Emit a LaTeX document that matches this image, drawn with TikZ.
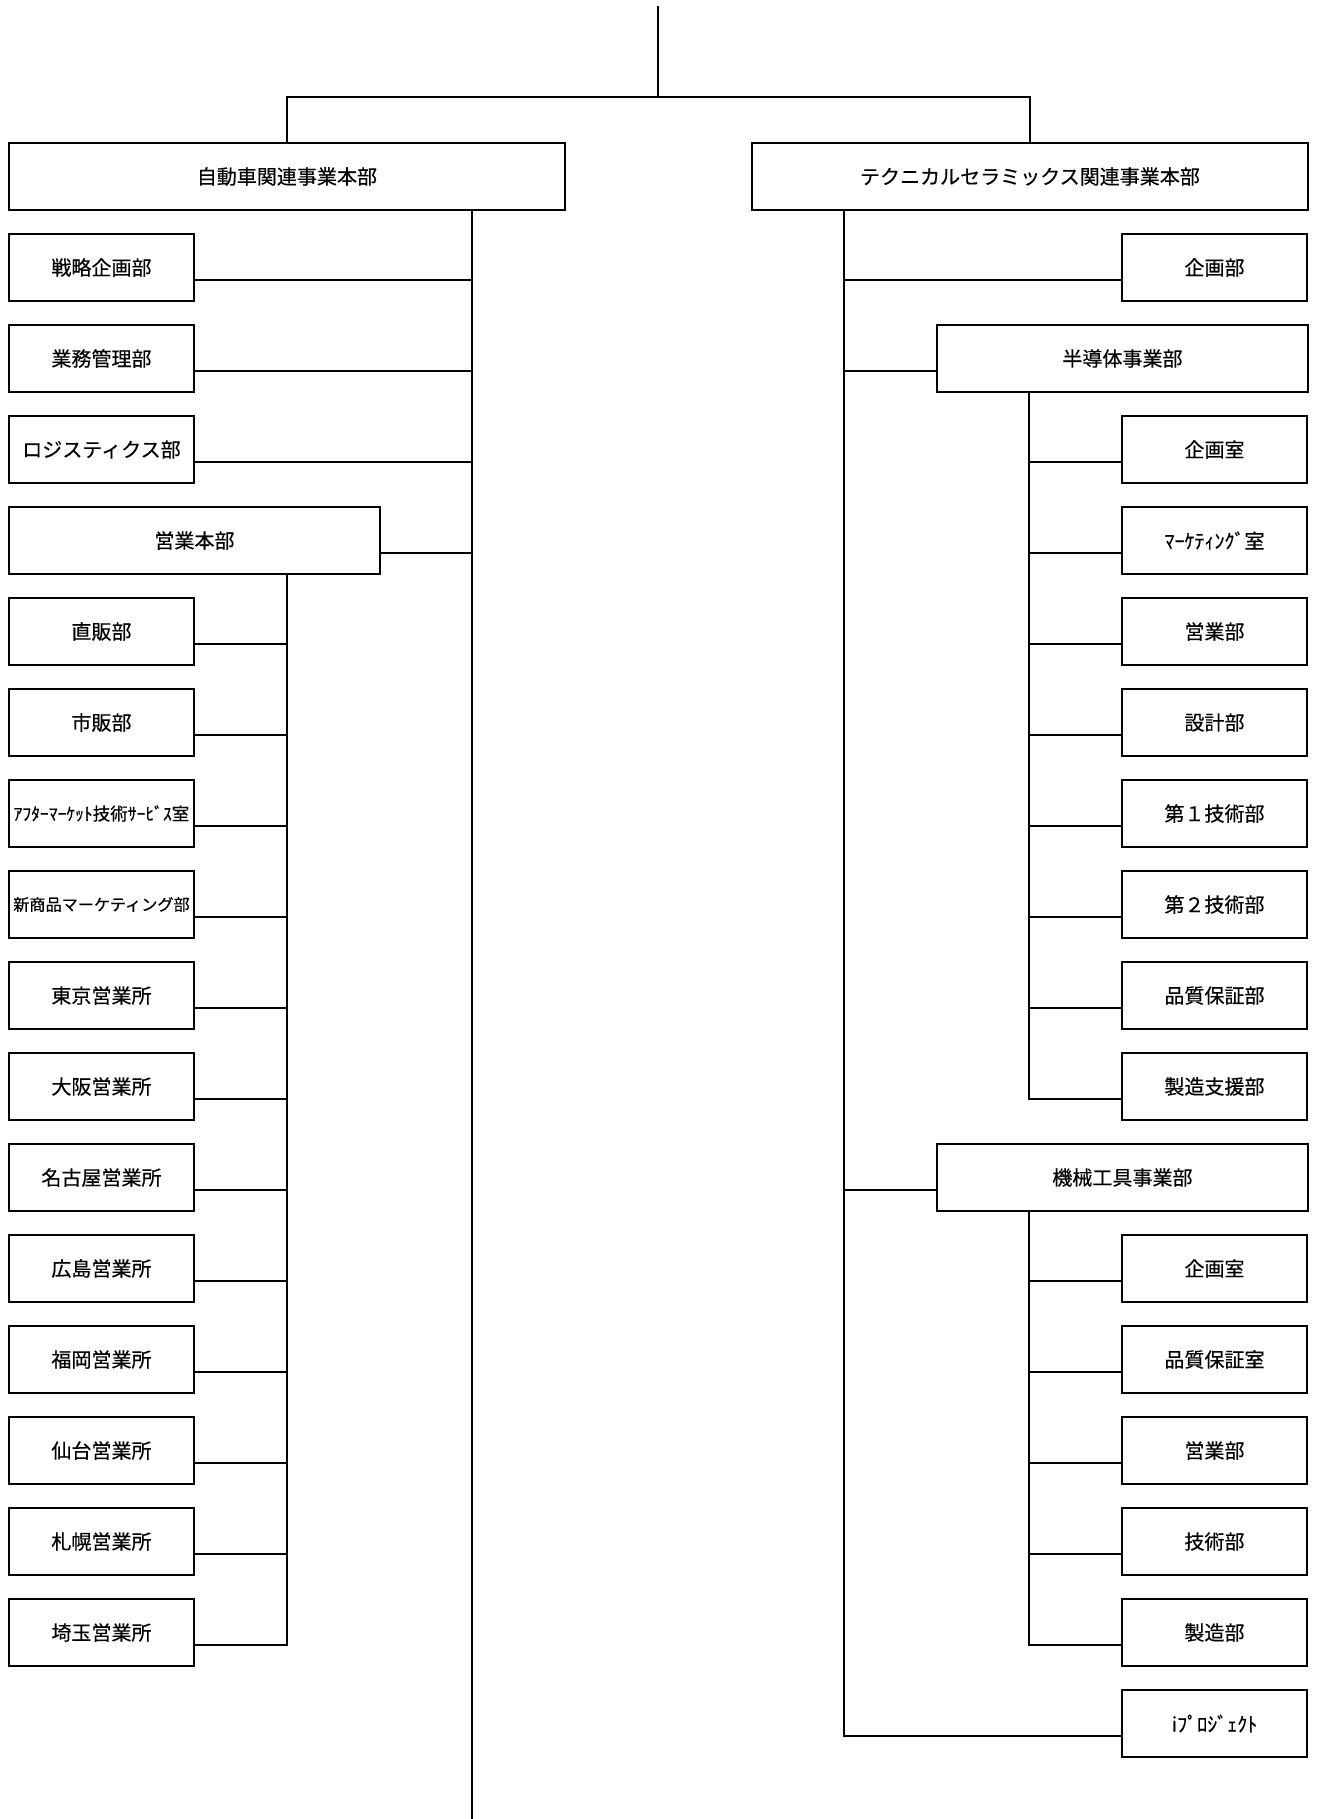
\documentclass[tikz,border=0pt]{standalone}
\usepackage{fontspec}
\newfontfamily\jpfont[FakeBold=0.4]{Noto Sans CJK JP}
\usepackage{xcolor}
\definecolor{orgLine}{RGB}{0, 0, 0}
\usepackage{tikz}
\usetikzlibrary{positioning}

\begin{document}
\begin{tikzpicture}[
    x=0.02cm, y=-0.02cm,
    deptBox/.style={
        rectangle, draw=orgLine, line width=1.5pt,
        fill=white, text=orgLine,
        font=\jpfont\fontsize{11.4}{13}\selectfont, align=center,
        inner sep=2pt, outer sep=0pt, anchor=north west,
        minimum width=3.7cm, minimum height=1.34cm
    },
    midBox/.style={deptBox, minimum width=7.42cm},
    headBox/.style={deptBox, minimum width=11.12cm},
    tightText/.style={font=\jpfont\fontsize{9.2}{11}\selectfont},
    orgLink/.style={draw=orgLine, line width=1.5pt}
]
    \useasboundingbox (0,0) rectangle (1316,1819);

    % Top level divisions
    \node[headBox] (hAuto) at (9,143) {自動車関連事業本部};
    \node[headBox] (hCera) at (752,143) {テクニカルセラミックス関連事業本部};

    \coordinate (root) at (658,6);
    \coordinate (split) at (658,97);
    \coordinate (trunkL) at (472,1819);
    \coordinate (subL) at (287,0);
    \coordinate (trunkR) at (844,0);
    \coordinate (subR) at (1029,0);

    % Automotive side
    \node[deptBox] (lStrat) at (9,234) {戦略企画部};
    \node[deptBox] (lBiz) at (9,325) {業務管理部};
    \node[deptBox] (lLogi) at (9,416) {ロジスティクス部};
    \node[midBox] (lSales) at (9,507) {営業本部};
    \node[deptBox] (sDirect) at (9,598) {直販部};
    \node[deptBox] (sMarket) at (9,689) {市販部};
    \node[deptBox, font=\jpfont\fontsize{10}{12}\selectfont] (sAfter) at (9,780) {ｱﾌﾀｰﾏｰｹｯﾄ技術ｻｰﾋﾞｽ室};
    \node[deptBox, tightText] (sNewProd) at (9,871) {新商品マーケティング部};
    \node[deptBox] (sTokyo) at (9,962) {東京営業所};
    \node[deptBox] (sOsaka) at (9,1053) {大阪営業所};
    \node[deptBox] (sNagoya) at (9,1144) {名古屋営業所};
    \node[deptBox] (sHiroshima) at (9,1235) {広島営業所};
    \node[deptBox] (sFukuoka) at (9,1326) {福岡営業所};
    \node[deptBox] (sSendai) at (9,1417) {仙台営業所};
    \node[deptBox] (sSapporo) at (9,1508) {札幌営業所};
    \node[deptBox] (sSaitama) at (9,1599) {埼玉営業所};

    % Ceramics side
    \node[deptBox] (rPlan) at (1122,234) {企画部};
    \node[midBox] (rSemi) at (937,325) {半導体事業部};
    \node[deptBox] (mPlan) at (1122,416) {企画室};
    \node[deptBox] (mMarket) at (1122,507) {ﾏｰｹﾃｨﾝｸﾞ室};
    \node[deptBox] (mSales) at (1122,598) {営業部};
    \node[deptBox] (mDesign) at (1122,689) {設計部};
    \node[deptBox] (mTech1) at (1122,780) {第１技術部};
    \node[deptBox] (mTech2) at (1122,871) {第２技術部};
    \node[deptBox] (mQuality) at (1122,962) {品質保証部};
    \node[deptBox] (mSupport) at (1122,1053) {製造支援部};
    \node[midBox] (rTool) at (937,1144) {機械工具事業部};
    \node[deptBox] (tPlan) at (1122,1235) {企画室};
    \node[deptBox] (tQuality) at (1122,1326) {品質保証室};
    \node[deptBox] (tSales) at (1122,1417) {営業部};
    \node[deptBox] (tTech) at (1122,1508) {技術部};
    \node[deptBox] (tProd) at (1122,1599) {製造部};
    \node[deptBox] (rIproj) at (1122,1690) {iﾌﾟﾛｼﾞｪｸﾄ};

    % Connecting lines
    \draw[orgLink] (root) -- (split);
    \draw[orgLink] (hAuto.north) |- (split) -| (hCera.north);
    \draw[orgLink] (hAuto.south -| trunkL) -- (trunkL);

    \foreach \n in {lStrat, lBiz, lLogi, lSales}
        \draw[orgLink] ([yshift=-0.25cm]\n.east) -- ([yshift=-0.25cm]\n.east -| trunkL);
    \foreach \n in {sDirect, sMarket, sAfter, sNewProd, sTokyo, sOsaka, sNagoya,
                    sHiroshima, sFukuoka, sSendai, sSapporo}
        \draw[orgLink] ([yshift=-0.25cm]\n.east) -- ([yshift=-0.25cm]\n.east -| subL);
    \draw[orgLink] ([yshift=-0.25cm]sSaitama.east) -| (lSales.south -| subL);

    \foreach \n in {rPlan, rSemi, rTool}
        \draw[orgLink] ([yshift=-0.25cm]\n.west) -- ([yshift=-0.25cm]\n.west -| trunkR);
    \draw[orgLink] ([yshift=-0.25cm]rIproj.west) -| (hCera.south -| trunkR);

    \foreach \n in {mPlan, mMarket, mSales, mDesign, mTech1, mTech2, mQuality}
        \draw[orgLink] ([yshift=-0.25cm]\n.west) -- ([yshift=-0.25cm]\n.west -| subR);
    \draw[orgLink] ([yshift=-0.25cm]mSupport.west) -| (rSemi.south -| subR);

    \foreach \n in {tPlan, tQuality, tSales, tTech}
        \draw[orgLink] ([yshift=-0.25cm]\n.west) -- ([yshift=-0.25cm]\n.west -| subR);
    \draw[orgLink] ([yshift=-0.25cm]tProd.west) -| (rTool.south -| subR);

\end{tikzpicture}
\end{document}
